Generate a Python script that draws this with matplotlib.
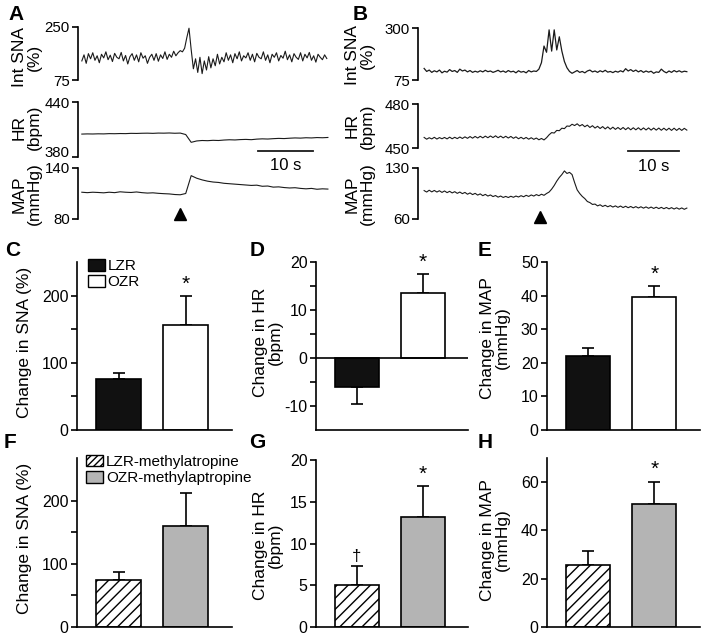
import numpy as np
import matplotlib
matplotlib.use("Agg")
import matplotlib.pyplot as plt
from matplotlib.patches import Patch

plt.rcParams['font.family'] = ['Liberation Sans', 'DejaVu Sans']
plt.rcParams['hatch.linewidth'] = 1.0
plt.rcParams['axes.linewidth'] = 1.2
INK = '#1a1a1a'

# ---------------- raw traces ----------------
# panel A: SNA every 0.4 s, HR and MAP every 1 s, from t = 0.7 s
a_sna = [138, 158, 130, 162, 145, 165, 140, 155, 132, 160,
         148, 168, 142, 157, 136, 163, 150, 145, 166, 138,
         156, 128, 152, 162, 140, 158, 135, 165, 147, 155,
         130, 150, 160, 140, 162, 137, 158, 146, 168, 143,
         160, 150, 170, 155, 165, 172, 168, 180,
         215, 246, 175, 112, 145, 100, 150, 96, 138, 108,
         152, 115, 145, 122, 160, 128, 150, 135, 165, 140,
         158, 132, 162, 145, 168, 138, 155, 148, 165, 140,
         160, 135, 163, 150, 145, 168, 140, 158, 132, 160,
         150, 165, 138, 156, 147, 170, 142, 158, 135, 162,
         150, 143, 165, 138, 160, 148, 166, 140, 155, 134,
         160, 150, 142, 158, 146]
a_hr = [405.0, 405.2, 405.1, 405.3, 405.2, 405.5, 405.4, 405.6, 405.5, 405.8,
        405.7, 405.9, 406.0, 405.8, 406.1, 406.0, 406.2, 405.9, 406.1,
        404.5, 396.0, 397.5, 398.0, 397.8, 398.2, 398.0, 398.5, 398.8, 398.6,
        399.0, 399.2, 398.9, 399.5, 399.8, 399.6, 400.0, 400.3, 400.1, 400.5,
        400.8, 400.6, 401.0, 400.8, 401.2, 401.0, 401.3]
a_map = [111.5, 111.0, 111.5, 111.2, 110.8, 111.5, 111.0, 112.0, 111.5, 111.2,
         111.8, 111.0, 110.5, 110.8, 110.2, 109.8, 109.5, 108.8, 108.5, 110.0,
         131.0, 128.0, 126.0, 124.5, 123.5, 123.0, 122.0, 121.5, 121.0, 120.5,
         120.0, 119.5, 119.8, 118.5, 118.8, 117.5, 117.8, 117.0, 116.5, 116.8,
         116.0, 115.5, 116.0, 115.0, 115.5, 115.2]

# panel B, sampled every 0.5 s from t = 1.2 s
b_sna = [125, 112, 118, 108, 115, 110, 118, 106, 113, 109,
         120, 112, 116, 108, 122, 114, 118, 110, 116, 108,
         113, 109, 115, 110, 117, 111, 114, 108, 112, 117,
         110, 114, 108, 116, 110, 113, 106, 115, 109, 112,
         106, 116, 110, 114, 112, 122, 150, 222, 195, 292,
         200, 292, 205, 262, 200, 155, 128, 112, 104, 110,
         116, 108, 112, 106, 114, 118, 110, 114, 108, 115,
         110, 117, 109, 112, 107, 113, 109, 115, 110, 124,
         114, 120, 112, 118, 110, 116, 108, 114, 109, 113,
         104, 110, 108, 122, 112, 106, 114, 108, 116, 110,
         115, 109, 113, 111]
b_hr = [457.2, 456.0, 457.0, 456.2, 457.3, 456.1, 457.1, 456.3, 457.2, 456.2,
        457.4, 456.3, 457.3, 456.4, 457.5, 456.5, 457.6, 456.6, 457.8, 456.7,
        457.9, 456.8, 458.0, 456.9, 458.1, 457.0, 458.2, 457.1, 458.3, 457.0,
        458.1, 456.9, 458.0, 456.8, 457.9, 456.6, 457.6, 456.3, 457.3, 456.2,
        457.2, 456.0, 457.0, 455.9, 456.8, 455.6, 456.5, 455.5, 457.0,
        459.0, 460.5, 460.2, 462.0, 461.8, 463.5, 463.2, 465.0, 464.8, 466.2,
        465.3, 466.5, 465.0, 466.0, 464.5, 465.6, 464.0, 465.2, 463.6, 464.8,
        463.3, 464.6, 463.0, 464.4, 462.8, 464.2, 462.7, 464.0, 462.6, 464.0,
        462.5, 463.9, 462.4, 463.8, 462.4, 463.8, 462.3, 463.7, 462.3, 463.7,
        462.2, 463.6, 462.2, 463.6, 462.1, 463.5, 462.1, 463.5, 462.0, 463.5,
        462.0, 463.4, 462.0, 463.4, 462.2]
b_map = [99.0, 97.0, 99.5, 97.2, 99.2, 97.0, 98.8, 96.5, 98.5, 96.2,
         98.0, 95.8, 97.5, 95.2, 97.0, 94.8, 96.5, 94.0, 95.8, 93.5,
         95.2, 92.8, 94.5, 92.0, 93.8, 91.5, 93.0, 90.8, 92.2, 90.0,
         91.5, 89.6, 91.0, 89.5, 91.2, 89.8, 91.5, 90.2, 92.0, 90.5,
         92.5, 91.0, 93.0, 91.5, 93.5, 92.0, 94.0, 92.5, 95.0,
         97.0, 101.0, 106.0, 112.0, 117.0, 121.0, 126.0, 122.5, 124.0, 121.0,
         110.0, 100.0, 95.0, 91.0, 88.0, 84.0, 82.5, 80.0, 80.5, 78.0,
         79.5, 77.2, 78.8, 76.8, 78.4, 76.4, 78.0, 76.0, 77.8, 75.7,
         77.5, 75.5, 77.2, 75.3, 77.0, 75.1, 76.8, 74.9, 76.6, 74.7,
         76.4, 74.5, 76.2, 74.3, 76.0, 74.1, 75.8, 73.9, 75.6, 73.7,
         75.4, 73.5, 75.2, 73.3, 75.0]

# ---------------- group means / SEM ----------------
groups_top = ['LZR', 'OZR']
groups_bot = ['LZR-methylatropine', 'OZR-methylaptropine']
sna_top, sna_top_err = [76, 156], [9, 43]
hr_top, hr_top_err = [-6, 13.5], [3.5, 4]
map_top, map_top_err = [22, 39.5], [2.5, 3.5]
sna_bot, sna_bot_err = [75, 160], [13, 52]
hr_bot, hr_bot_err = [5.0, 13.2], [2.3, 3.7]
map_bot, map_bot_err = [25.6, 51], [6, 9.2]

W, H = 705, 637
fig = plt.figure(figsize=(W / 100, H / 100), dpi=100)


def px_axes(x0, y0, x1, y1):
    return fig.add_axes([x0 / W, 1 - y1 / H, (x1 - x0) / W, (y1 - y0) / H])


def ftext(x, y, s, **kw):
    fig.text(x / W, 1 - y / H, s, **kw)


def trace(ax, t0, step, vals, xlim, ylim, lw=0.9):
    t = t0 + step * np.arange(len(vals))
    ax.plot(t, vals, color=INK, lw=lw)
    ax.set_xlim(*xlim)
    ax.set_ylim(*ylim)
    for s in ['top', 'right', 'bottom']:
        ax.spines[s].set_visible(False)
    ax.set_xticks([])
    ax.set_yticks(ylim)
    ax.tick_params(axis='y', length=4, width=1.2, labelsize=10.8, pad=2)
    ax.patch.set_alpha(0)


# ---- panel A ----
xa = (0, 47)
ax = px_axes(78, 27, 335, 80)
trace(ax, 0.7, 0.4, a_sna, xa, (75, 250), lw=0.8)
ax = px_axes(78, 102, 335, 157)
trace(ax, 0.7, 1.0, a_hr, xa, (380, 440), lw=0.8)
ax.get_yticklabels()[0].set_verticalalignment('baseline')
ax.plot([32.9, 42.9], [386.5, 386.5], color=INK, lw=1.3, clip_on=False)
ax.text(37.9, 371, '10 s', ha='center', va='center', fontsize=12)
ax = px_axes(78, 168, 335, 219)
trace(ax, 0.7, 1.0, a_map, xa, (80, 140), lw=0.8)
ax.plot([18.65], [85.3], marker='^', color='black', ms=8, clip_on=False)

# ---- panel B ----
xb = (0, 54.3)
ax = px_axes(418, 28, 695, 80)
trace(ax, 1.2, 0.5, b_sna, xb, (75, 300))
ax = px_axes(418, 104, 695, 148)
trace(ax, 1.2, 0.5, b_hr, xb, (450, 480), lw=0.8)
ax.plot([41.2, 51.2], [448, 448], color=INK, lw=1.3, clip_on=False)
ax.text(46.2, 437.7, '10 s', ha='center', va='center', fontsize=12)
ax = px_axes(418, 168, 695, 219)
trace(ax, 1.2, 0.5, b_map, xb, (60, 130), lw=0.8)
ax.plot([23.9], [62.7], marker='^', color='black', ms=8, clip_on=False)

lab = dict(rotation=90, ha='center', va='center', multialignment='center',
           fontsize=12.5, linespacing=1.05)
ftext(27, 57, 'Int SNA\n(%)', **lab)
ftext(27, 127, 'HR\n(bpm)', **lab)
ftext(27, 194, 'MAP\n(mmHg)', **lab)
ftext(360, 55, 'Int SNA\n(%)', **lab)
ftext(360, 126, 'HR\n(bpm)', **lab)
ftext(360, 194, 'MAP\n(mmHg)', **lab)


# ---------------- bar panels ----------------
def bars(ax, vals, errs, faces, hatches, ylim, ticks, ticklabels, xlim):
    x = np.arange(len(vals))
    rects = ax.bar(x, vals, width=0.67, color=faces, edgecolor='black', linewidth=1.2, zorder=2)
    for r, h in zip(rects, hatches):
        r.set_hatch(h)
    lo = [e if v < 0 else 0 for v, e in zip(vals, errs)]
    hi = [0 if v < 0 else e for v, e in zip(vals, errs)]
    ax.errorbar(x, vals, yerr=[lo, hi], fmt='none', ecolor='black', elinewidth=1.2,
                capsize=4, capthick=1.2, zorder=1)
    ax.set_xlim(*xlim)
    ax.set_ylim(*ylim)
    ax.set_xticks([])
    ax.set_yticks(ticks)
    ax.set_yticklabels(ticklabels)
    ax.tick_params(axis='y', length=4, width=1.2, labelsize=11.5, pad=2)
    for s in ['top', 'right']:
        ax.spines[s].set_visible(False)
    return x


def mark(ax, x, y, s, fs=15):
    ax.annotate(s, (x, y), xytext=(0, 0), textcoords='offset points',
                ha='center', va='bottom', fontsize=fs)


top_faces = ['#111111', 'white']
bot_faces = ['white', '#b4b4b4']
bot_hatch = ['///', '']
xl = (-0.62, 1.69)

ax = px_axes(77, 262, 232, 430)
x = bars(ax, sna_top, sna_top_err, top_faces, ['', ''], (0, 250),
         [0, 50, 100, 150, 200], ['0', '', '100', '', '200'], xl)
mark(ax, x[1], sna_top[1] + sna_top_err[1] + 4, '*')
ax.legend([Patch(facecolor='#111111', edgecolor='black'), Patch(facecolor='white', edgecolor='black')],
          groups_top, loc='upper left', bbox_to_anchor=(0.07, 1.02), frameon=False, fontsize=11,
          handlelength=1.1, handleheight=0.9, handletextpad=0.2, labelspacing=0.1,
          borderpad=0, borderaxespad=0)

ax = px_axes(316, 262, 468, 430)
x = bars(ax, hr_top, hr_top_err, top_faces, ['', ''], (-15, 20),
         [-10, -5, 0, 5, 10, 15, 20], ['-10', '', '0', '', '10', '', '20'], xl)
ax.axhline(0, color='black', lw=1.2, zorder=3)
mark(ax, x[1], hr_top[1] + hr_top_err[1] + 0.5, '*')

ax = px_axes(547, 262, 700, 430)
x = bars(ax, map_top, map_top_err, top_faces, ['', ''], (0, 50),
         [0, 10, 20, 30, 40, 50], ['0', '10', '20', '30', '40', '50'], xl)
mark(ax, x[1], map_top[1] + map_top_err[1] + 0.5, '*')

ax = px_axes(77, 458, 232, 627)
x = bars(ax, sna_bot, sna_bot_err, bot_faces, bot_hatch, (0, 268),
         [0, 50, 100, 150, 200], ['0', '', '100', '', '200'], xl)
ax.legend([Patch(facecolor='white', edgecolor='black', hatch='/////'),
           Patch(facecolor='#b4b4b4', edgecolor='black')],
          groups_bot, loc='upper left', bbox_to_anchor=(0.06, 1.02), frameon=False, fontsize=11,
          handlelength=1.1, handleheight=0.8, handletextpad=0.2, labelspacing=0.15,
          borderpad=0, borderaxespad=0)

ax = px_axes(316, 460, 468, 627)
x = bars(ax, hr_bot, hr_bot_err, bot_faces, bot_hatch, (0, 20),
         [0, 5, 10, 15, 20], ['0', '5', '10', '15', '20'], xl)
mark(ax, x[0], hr_bot[0] + hr_bot_err[0] + 0.2, '\u2020', fs=12)
mark(ax, x[1], hr_bot[1] + hr_bot_err[1] + 0.3, '*')

ax = px_axes(547, 458, 700, 627)
x = bars(ax, map_bot, map_bot_err, bot_faces, bot_hatch, (0, 70),
         [0, 20, 40, 60], ['0', '20', '40', '60'], xl)
mark(ax, x[1], map_bot[1] + map_bot_err[1] + 1, '*')

ftext(25, 342, 'Change in SNA (%)', **lab)
ftext(268, 342, 'Change in HR\n(bpm)', **lab)
ftext(495, 338, 'Change in MAP\n(mmHg)', **lab)
ftext(25, 538, 'Change in SNA (%)', **lab)
ftext(268, 545, 'Change in HR\n(bpm)', **lab)
ftext(495, 540, 'Change in MAP\n(mmHg)', **lab)

letters = dict(fontsize=15, weight='bold', ha='center', va='center')
for s, (x0, y0) in {'A': (16, 14), 'B': (360, 14), 'C': (13, 250), 'D': (257, 251),
                    'E': (485, 250), 'F': (10, 443), 'G': (257, 443), 'H': (485, 443)}.items():
    ftext(x0, y0, s, **letters)

fig.savefig('out.png', dpi=100)
